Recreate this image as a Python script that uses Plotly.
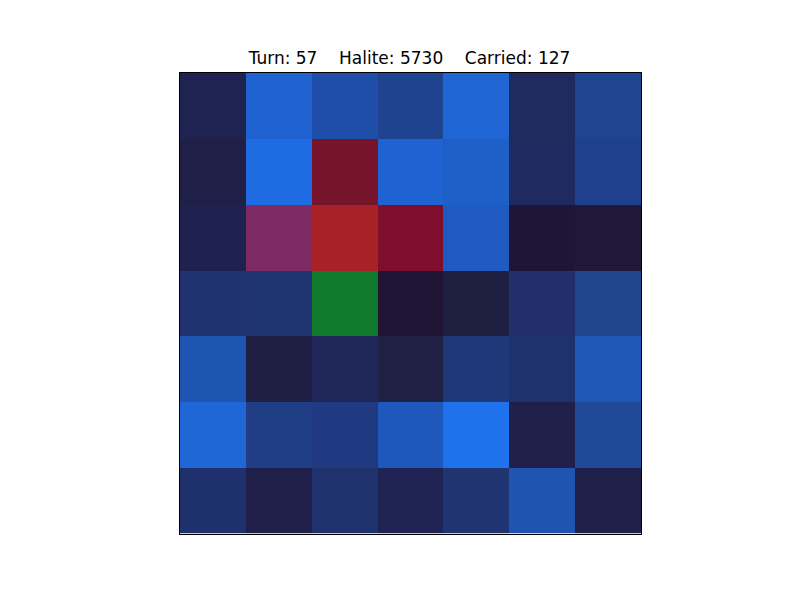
import plotly.graph_objects as go

turn = 57
halite = 5730
carried = 127

# cell colours (RGB), row by row from top
row0 = [(31, 35, 82), (31, 98, 208), (31, 78, 168), (31, 67, 143), (31, 101, 211), (31, 42, 94), (33, 68, 145)]
row1 = [(31, 31, 72), (31, 108, 226), (117, 20, 42), (31, 98, 210), (30, 95, 200), (31, 42, 97), (31, 65, 141)]
row2 = [(31, 33, 80), (127, 43, 99), (168, 33, 39), (125, 14, 44), (31, 90, 192), (31, 21, 52), (32, 24, 57)]
row3 = [(33, 50, 112), (31, 53, 114), (17, 123, 45), (33, 20, 52), (31, 31, 66), (33, 48, 106), (33, 68, 142)]
row4 = [(31, 85, 178), (31, 31, 68), (31, 38, 88), (32, 31, 68), (31, 56, 121), (31, 50, 110), (31, 87, 182)]
row5 = [(31, 103, 214), (31, 62, 134), (31, 58, 128), (31, 88, 188), (30, 114, 236), (32, 31, 74), (32, 73, 152)]
row6 = [(31, 49, 108), (31, 31, 73), (31, 50, 110), (31, 36, 84), (31, 52, 112), (31, 84, 177), (32, 31, 74)]

grid = [row0, row1, row2, row3, row4, row5, row6]
z = [[list(c) for c in row] for row in grid]

fig = go.Figure(go.Image(z=z, x0=0, dx=1, y0=0, dy=1, hoverinfo="skip"))

sp = "\u00a0" * 4
title = f"Turn: {turn}{sp}Halite: {halite}{sp}Carried: {carried}"

fig.update_layout(
    width=800, height=600,
    margin=dict(l=172, r=167, t=64, b=74),
    paper_bgcolor="white", plot_bgcolor="white",
    title=dict(text=title, x=401.5 / 800, xanchor="center", y=1 - 50 / 600, yanchor="middle",
               font=dict(family="DejaVu Sans", size=17, color="black")),
    showlegend=False,
)
fig.update_xaxes(range=[-0.5, 6.5], showticklabels=False, ticks="", showgrid=False, zeroline=False,
                 showline=True, linecolor="black", linewidth=1, mirror=True)
fig.update_yaxes(range=[6.5, -0.5], autorange=False, showticklabels=False, ticks="", showgrid=False,
                 zeroline=False, showline=True, linecolor="black", linewidth=1, mirror=True,
                 scaleanchor=None)

fig.write_html("out.html")
